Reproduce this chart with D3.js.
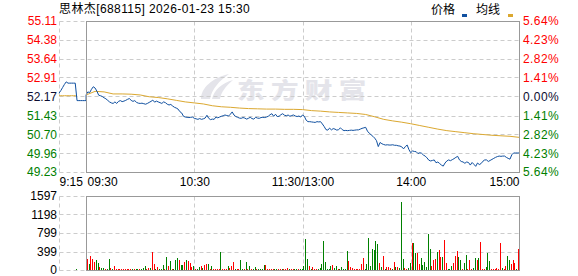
<!DOCTYPE html>
<html>
<head>
<meta charset="utf-8">
<script src="https://cdn.jsdelivr.net/npm/d3@7"></script>
<style>
body { margin: 0; background: #fff; }
svg { display: block; font-family: Arial, "Liberation Sans", "Noto Sans CJK SC", sans-serif; }
</style>
</head>
<body>
<div id="chart"></div>
<script>
const title = "思林杰[688115] 2026-01-23 15:30";
const legendNames = ["价格", "均线"];
const prevClose = 52.17;
const priceTicks = [55.11, 54.38, 53.64, 52.91, 52.17, 51.43, 50.70, 49.96, 49.23];
const pctTicks = ["5.64%", "4.23%", "2.82%", "1.41%", "0.00%", "1.41%", "2.82%", "4.23%", "5.64%"];
const volTicks = [1597, 1198, 799, 399, 0];
const timeTicks = [-15, 0, 60, 120, 180, 240];
const timeLabels = ["9:15", "09:30", "10:30", "11:30/13:00", "14:00", "15:00"];

// call auction 9:15 - 9:30 (minutes -15 .. 0)
const prePrice = [52.30, 52.40, 52.52, 52.64, 52.74, 52.69, 52.69, 52.69, 52.69, 52.69,
                  52.01, 52.01, 52.01, 52.01, 52.01, 52.01];
const preAvg = [52.20, 52.20, 52.20, 52.20, 52.20, 52.20, 52.20, 52.20, 52.20, 52.20, 52.20];
const auctionVol = 22;

// one price per minute, 09:30 (0) .. 15:00 (240)
const price = [
  52.23, 52.35, 52.32, 52.45, 52.55, 52.50, 52.38, 52.22, 52.20, 52.17,
  52.12, 52.08, 52.02, 51.96, 51.92, 51.90, 51.96, 51.90, 51.98, 52.01,
  51.97, 51.99, 52.02, 52.06, 52.09, 52.02, 51.98, 52.01, 51.94, 51.91,
  51.90, 51.91, 51.89, 51.87, 51.90, 51.94, 51.98, 52.03, 51.95, 51.99,
  51.96, 51.93, 51.90, 51.96, 51.93, 51.87, 51.84, 51.86, 51.80, 51.75,
  51.72, 51.68, 51.58, 51.53, 51.40, 51.37, 51.36, 51.35, 51.36, 51.37,
  51.32, 51.30, 51.28, 51.31, 51.28, 51.30, 51.33, 51.44, 51.32, 51.27,
  51.29, 51.28, 51.37, 51.34, 51.37, 51.40, 51.42, 51.45, 51.43, 51.41,
  51.48, 51.57, 51.45, 51.39, 51.36, 51.33, 51.32, 51.35, 51.33, 51.29,
  51.32, 51.36, 51.31, 51.29, 51.36, 51.33, 51.32, 51.35, 51.36, 51.35,
  51.37, 51.40, 51.46, 51.50, 51.40, 51.48, 51.39, 51.40, 51.46, 51.50,
  51.44, 51.42, 51.45, 51.40, 51.43, 51.45, 51.41, 51.39, 51.41, 51.37,
  51.45, 51.40, 51.25, 51.19, 51.19, 51.18, 51.17, 51.16, 51.19, 51.18,
  51.19, 51.10, 51.00, 50.88, 50.86, 50.94, 50.87, 50.92, 50.90, 50.86,
  50.88, 50.95, 50.88, 50.84, 50.85, 50.84, 50.85, 50.86, 50.85, 50.86,
  50.87, 50.87, 50.90, 50.93, 50.95, 50.97, 50.82, 50.74, 50.68, 50.62,
  50.55, 50.45, 50.22, 50.38, 50.33, 50.30, 50.28, 50.29, 50.28, 50.28,
  50.29, 50.27, 50.27, 50.25, 50.24, 50.21, 50.13, 50.22, 50.28, 50.10,
  49.98, 50.05, 50.03, 50.02, 49.95, 49.98, 49.96, 49.89, 49.85, 49.78,
  49.69, 49.66, 49.68, 49.70, 49.59, 49.62, 49.56, 49.50, 49.46, 49.58,
  49.66, 49.70, 49.67, 49.71, 49.75, 49.80, 49.84, 49.70, 49.64, 49.62,
  49.57, 49.62, 49.60, 49.50, 49.60, 49.53, 49.45, 49.58, 49.52, 49.56,
  49.65, 49.70, 49.70, 49.64, 49.68, 49.72, 49.76, 49.80, 49.83, 49.85,
  49.84, 49.85, 49.85, 49.80, 49.76, 49.73, 49.90, 49.97, 49.97, 49.97,
  49.97
];

// average price every 5 minutes, 09:30 .. 15:00
const avgPrice = [
  52.23, 52.37, 52.35, 52.27, 52.27, 52.26, 52.23, 52.16, 52.13, 52.08,
  52.02, 51.96, 51.92, 51.88, 51.81, 51.77, 51.75, 51.72, 51.70, 51.69,
  51.68, 51.68, 51.67, 51.67, 51.66, 51.62, 51.60, 51.57, 51.55, 51.53,
  51.51, 51.47, 51.38, 51.28, 51.22, 51.17, 51.11, 51.04, 50.97, 50.90,
  50.84, 50.80, 50.76, 50.72, 50.69, 50.66, 50.64, 50.62, 50.58
];

// volume per minute, 09:31 .. 15:00
const volume = [
  238, 130, 302, 238, 180, 216, 151, 65, 36, 43,
  29, 15, 238, 36, 22, 86, 22, 15, 15, 18,
  15, 15, 15, 15, 15, 15, 15, 15, 15, 15,
  22, 43, 86, 22, 43, 43, 389, 130, 29, 58,
  22, 22, 108, 29, 281, 86, 194, 29, 22, 216,
  259, 216, 108, 108, 173, 216, 194, 158, 72, 79,
  20, 29, 65, 79, 50, 115, 137, 130, 20, 86,
  20, 20, 20, 20, 389, 20, 20, 20, 86, 43,
  86, 173, 20, 20, 20, 216, 20, 20, 173, 29,
  86, 15, 15, 65, 15, 15, 15, 15, 108, 108,
  15, 15, 15, 15, 15, 15, 15, 15, 15, 15,
  15, 43, 15, 15, 15, 20, 20, 15, 15, 15,
  86, 670, 238, 86, 20, 65, 20, 20, 20, 43,
  130, 626, 180, 20, 20, 86, 108, 43, 86, 20,
  15, 65, 20, 20, 410, 194, 65, 43, 20, 15,
  15, 15, 130, 259, 20, 130, 691, 86, 454, 432,
  626, 562, 151, 65, 302, 20, 65, 65, 43, 20,
  173, 65, 65, 43, 1469, 238, 43, 20, 43, 151,
  583, 583, 367, 367, 130, 259, 108, 173, 65, 778,
  454, 86, 216, 238, 389, 432, 281, 281, 648, 151,
  20, 20, 86, 151, 302, 410, 281, 216, 20, 151,
  324, 20, 216, 20, 43, 259, 216, 259, 605, 20,
  20, 65, 367, 194, 20, 20, 20, 43, 20, 583,
  43, 20, 86, 302, 216, 130, 216, 151, 20, 454
];
// r = up minute, g = down minute
const volDir =
  "rgrrrggrgg" + "rggrgrrrrr" + "rrrrrgrggr" + "gggrrgrrgr" + "gggrgrgrgg" +
  "grggrgrrrg" + "rggrgrrgrg" + "rrrrgrrrgr" + "rrgrrggrgr" + "grggrggggr" +
  "rrrrggrrgr" + "rrgrrggrgg" + "gggrgrrrgg" + "ggggggrggr" + "gggggrrrrr" +
  "rrrrgggggg" + "ggrgrgrrrg" + "rgrgggrrgg" + "rggrrggggg" + "grrrgrrgrr" +
  "gggrrrggrg" + "grrrggrgrr" + "rgggrrrrrr" + "grrggrrrgr";

const width = 578, height = 276;
const red = "#ff0000", green = "#008000", dark = "#0c0c30";
const lineBlue = "#1050a0", lineGold = "#dba830";
const gridColor = "#cccccc", frameColor = "#999999";

const svg = d3.select("#chart").append("svg")
    .attr("width", width)
    .attr("height", height);

const x = d3.scaleLinear().domain([-15, 240]).range([59, 519]);
const yP = d3.scaleLinear().domain([49.23, 55.11]).range([172, 21]);
const yV = d3.scaleLinear().domain([0, 1597]).range([270, 196]);

const crisp = v => Math.round(v) + 0.5;
const left = crisp(x(-15)), open = crisp(x(0)), right = crisp(x(240));

// title + legend
svg.append("text")
    .attr("x", 59).attr("y", 13)
    .attr("font-size", 12).attr("fill", "#000")
    .attr("letter-spacing", 0.4)
    .text(title);

const legend = svg.append("g").attr("font-size", 12).attr("fill", "#000");
legend.append("text").attr("x", 431).attr("y", 14).text(legendNames[0]);
legend.append("rect").attr("x", 462).attr("y", 14).attr("width", 5).attr("height", 3).attr("fill", lineBlue);
legend.append("text").attr("x", 476).attr("y", 14).text(legendNames[1]);
legend.append("rect").attr("x", 508).attr("y", 14).attr("width", 5).attr("height", 3).attr("fill", lineGold);

// watermark
const wm = svg.append("g").attr("fill", "#e4e4ea");
wm.append("path")
    .attr("d", "M201,99 C201,88 212,78 229,74 C219,81 212,89 210,99 Z M212,99 C214,90 222,83 233,80 C226,86 221,92 220,99 Z");
wm.append("text")
    .attr("transform", "translate(237,98) scale(1.15,0.9)")
    .attr("font-family", "'Noto Sans CJK SC', sans-serif")
    .attr("font-weight", "900")
    .attr("font-size", 24)
    .attr("letter-spacing", 5.5)
    .text("东方财富");

// price grid
const gridP = svg.append("g")
    .attr("stroke", gridColor)
    .attr("stroke-dasharray", "4,3");

gridP.selectAll(".hline")
    .data(priceTicks)
    .enter().append("line")
    .attr("x1", left).attr("x2", right)
    .attr("y1", d => crisp(yP(d))).attr("y2", d => crisp(yP(d)));

gridP.selectAll(".vline")
    .data([-15, 60, 120, 180])
    .enter().append("line")
    .attr("x1", d => crisp(x(d))).attr("x2", d => crisp(x(d)))
    .attr("y1", crisp(yP(55.11))).attr("y2", crisp(yP(49.23)));

// volume grid
const gridV = svg.append("g")
    .attr("stroke", gridColor)
    .attr("stroke-dasharray", "4,3");

gridV.selectAll(".hline")
    .data(volTicks)
    .enter().append("line")
    .attr("x1", left).attr("x2", right)
    .attr("y1", d => crisp(yV(d))).attr("y2", d => crisp(yV(d)));

gridV.selectAll(".vline")
    .data([-15, 60, 120, 180])
    .enter().append("line")
    .attr("x1", d => crisp(x(d))).attr("x2", d => crisp(x(d)))
    .attr("y1", crisp(yV(1597))).attr("y2", crisp(yV(0)));

// volume bars
const bars = volume.map((v, i) => ({t: i + 1, v: v, dir: volDir[i]}));
bars.unshift({t: -5, v: auctionVol, dir: "g"});

svg.append("g")
    .selectAll("rect")
    .data(bars)
    .enter().append("rect")
    .attr("x", d => Math.round(x(d.t) - 1))
    .attr("width", 1)
    .attr("y", d => Math.round(yV(d.v)))
    .attr("height", d => Math.round(yV(0)) - Math.round(yV(d.v)))
    .attr("fill", d => d.dir == "r" ? red : green);

// lines
const pricePts = prePrice.map((p, i) => ({t: i - 15, p: p}))
    .concat(price.map((p, i) => ({t: i, p: p})));
const preAvgPts = preAvg.map((p, i) => ({t: i - 15, p: p}));
const avgPts = avgPrice.map((p, i) => ({t: i * 5, p: p}));

const line = d3.line()
    .x(d => x(d.t))
    .y(d => yP(d.p));

svg.append("path").datum(preAvgPts)
    .attr("d", line).attr("fill", "none")
    .attr("stroke", lineGold).attr("stroke-width", 1);
svg.append("path").datum(avgPts)
    .attr("d", line).attr("fill", "none")
    .attr("stroke", lineGold).attr("stroke-width", 1);
svg.append("path").datum(pricePts)
    .attr("d", line).attr("fill", "none")
    .attr("stroke", lineBlue).attr("stroke-width", 1);

// frames
const frames = svg.append("g").attr("fill", "none").attr("stroke", frameColor);
frames.append("rect")
    .attr("x", open).attr("y", crisp(yP(55.11)))
    .attr("width", right - open).attr("height", crisp(yP(49.23)) - crisp(yP(55.11)));
frames.append("rect")
    .attr("x", open).attr("y", crisp(yV(1597)))
    .attr("width", right - open).attr("height", crisp(yV(0)) - crisp(yV(1597)));

// axis labels
const tickColor = i => i < 4 ? red : (i == 4 ? dark : green);

const axisP = svg.append("g")
    .attr("transform", "translate(57,0)")
    .call(d3.axisLeft(yP).tickValues(priceTicks).tickFormat(d3.format(".2f")).tickSize(0).tickPadding(0));
axisP.select(".domain").remove();
axisP.selectAll("text")
    .attr("font-size", 12).attr("font-family", null)
    .attr("fill", (d, i) => tickColor(i));

const axisR = svg.append("g")
    .attr("transform", "translate(523,0)")
    .call(d3.axisRight(yP).tickValues(priceTicks).tickFormat((d, i) => pctTicks[i]).tickSize(0).tickPadding(0));
axisR.select(".domain").remove();
axisR.selectAll("text")
    .attr("font-size", 12).attr("font-family", null)
    .attr("letter-spacing", 0.4)
    .attr("fill", (d, i) => tickColor(i));

const axisV = svg.append("g")
    .attr("transform", "translate(57,0)")
    .call(d3.axisLeft(yV).tickValues(volTicks).tickFormat(d3.format("d")).tickSize(0).tickPadding(0));
axisV.select(".domain").remove();
axisV.selectAll("text")
    .attr("font-size", 12).attr("font-family", null).attr("fill", "#000");

const axisT = svg.append("g")
    .attr("transform", "translate(0,177)")
    .call(d3.axisBottom(x).tickValues(timeTicks).tickFormat((d, i) => timeLabels[i]).tickSize(0).tickPadding(0));
axisT.select(".domain").remove();
axisT.selectAll("text")
    .attr("font-size", 12).attr("font-family", null).attr("fill", "#000")
    .attr("dx", (d, i) => i == 1 ? 1 : 0)
    .attr("text-anchor", (d, i) => i < 2 ? "start" : (i == timeTicks.length - 1 ? "end" : "middle"));
</script>
</body>
</html>
